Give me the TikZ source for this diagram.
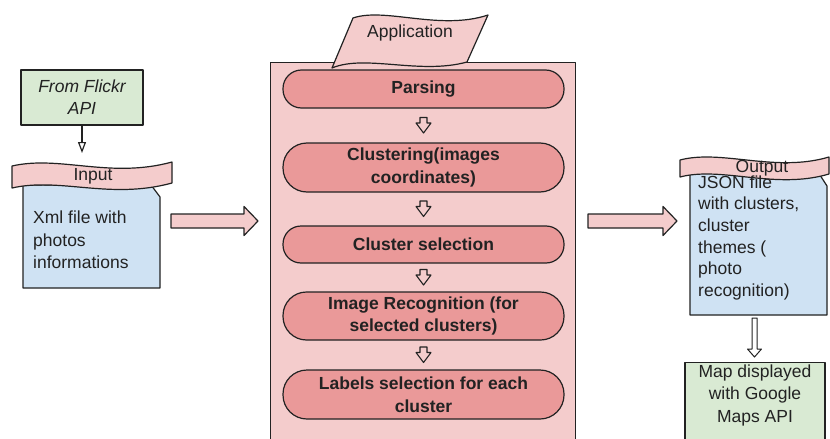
\documentclass[tikz,border=0pt]{standalone}
\usepackage{fontspec}
\setmainfont{Liberation Sans}
\usetikzlibrary{arrows.meta,calc}
\definecolor{pinklt}{HTML}{F4CCCC}
\definecolor{pinkmd}{HTML}{EA9999}
\definecolor{bluelt}{HTML}{CFE2F3}
\definecolor{greenlt}{HTML}{D9EAD3}
\definecolor{ink}{HTML}{222222}

\begin{document}
\begin{tikzpicture}[x=1pt,y=-1pt,line join=round,
  outl/.style={draw=ink,line width=1.2pt},
  txt/.style={font=\fontsize{17.5}{22.5}\selectfont,text=ink,inner sep=0pt},
  pill/.style={outl,fill=pinkmd,minimum width=281pt,inner sep=0pt,align=center,
    font=\fontsize{17.5}{22.5}\selectfont\bfseries,text=ink},
  greenbox/.style={outl,fill=greenlt,inner sep=0pt,align=center},
  openarr/.style={draw=ink,line width=1.2pt,-{Triangle[open,length=11pt,width=8pt,line width=1.2pt]}},
  pics/rblock/.style={code={%
    \draw[outl,fill=pinklt] (0,-7) -- (#1-14,-7) -- (#1-14,-14.5) -- (#1,0)
      -- (#1-14,14.5) -- (#1-14,7) -- (0,7) -- cycle;}},
  pics/dblock/.style={code={%
    \draw[outl,fill=pinklt,line width=1.1pt] (-3.5,-8) -- (3.5,-8) -- (3.5,-2.5) -- (7.5,-2.5)
      -- (0,7.5) -- (-7.5,-2.5) -- (-3.5,-2.5) -- cycle;}},
]
\useasboundingbox (0,0) rectangle (830,439);
\fill[white] (0,0) rectangle (830,439);

% ---------------- input side ----------------
\node[greenbox,minimum width=122pt,minimum height=55pt,
      font=\fontsize{17.5}{22}\selectfont\itshape,text=ink] (flickr) at (82,97.5)
  {From Flickr\\API};
\coordinate (flend) at (82,153);
\draw[openarr] (flickr.south) -- (flend);

% document shape with folded corner
\draw[outl,fill=bluelt] (23,185) -- (151,185) -- (160,197) -- (160,288) -- (23,288) -- cycle;
\coordinate (indoc) at (160,221);
\node[txt,align=left,anchor=north west] (intext) at (33,211)
  {Xml file with\\photos\\informations};

% input tape banner
\draw[outl,fill=pinklt] (12,166) .. controls (60,155) and (110,179) .. (172,162)
  -- (172,183) .. controls (110,200) and (60,177) .. (12,188) -- cycle;
\node[txt] (inlabel) at (93,176.5) {Input};

% arrow into the application
\pic (inarr) at (171,221) {rblock=87};

% ---------------- application ----------------
\node[outl,fill=pinklt,minimum width=305pt,minimum height=390pt,anchor=north west,
      inner sep=0pt] (app) at (270,62) {};

% slanted tape holding the title
\draw[outl,fill=pinklt] (353,18) .. controls (385,7) and (440,31) .. (488,15)
  -- (467,62) .. controls (420,75) and (365,54) .. (332,68) -- cycle;
\node[txt] (applabel) at (410,33) {Application};

\node[pill,minimum height=38pt,rounded corners=18.5pt] (parse) at (423.5,89) {Parsing};
\node[pill,minimum height=49pt,rounded corners=24pt] (clust) at (423.5,167.5)
  {Clustering(images\\coordinates)};
\node[pill,minimum height=37pt,rounded corners=18pt] (csel) at (423.5,244.5) {Cluster selection};
\node[pill,minimum height=48pt,rounded corners=23.5pt] (imrec) at (423.5,316)
  {Image Recognition (for\\selected clusters)};
\node[pill,minimum height=49pt,rounded corners=24pt] (lsel) at (423.5,394.5)
  {Labels selection for each\\cluster};

\pic (a1) at ($(parse.south)!0.5!(clust.north)$) {dblock};
\pic (a2) at ($(clust.south)!0.5!(csel.north)$) {dblock};
\pic (a3) at ($(csel.south)!0.5!(imrec.north)$) {dblock};
\pic (a4) at ($(imrec.south)!0.5!(lsel.north)$) {dblock};

% ---------------- output side ----------------
\pic (outarr) at (588,221) {rblock=89};

\draw[outl,fill=bluelt] (690,172) -- (818,172) -- (827,186) -- (827,315) -- (690,315) -- cycle;
\coordinate (outdoc) at (754.5,315);

\draw[outl,fill=pinklt] (680,160) .. controls (722,149) and (775,173) .. (829,157)
  -- (829,174) .. controls (775,190) and (722,166) .. (680,177) -- cycle;
\node[txt] (outlabel) at (762,168.5) {Output};

\node[txt,align=left,anchor=north west,font=\fontsize{17.5}{21.6}\selectfont] (outtext) at (698,175.5)
  {JSON file\\with clusters,\\cluster\\themes (\\photo\\recognition)};

\node[greenbox,minimum width=140pt,minimum height=88pt,anchor=north,
      font=\fontsize{17.5}{21.5}\selectfont,text=ink,text depth=0pt] (map) at (755,362) {};
\node[txt,align=center] (maptext) at (755,395) {Map displayed\\with Google\\Maps API};

% thin hollow arrow from the output file to the map
\draw[outl,fill=white,line width=1pt] (752,318) -- (757,318) -- (757,349) -- (761.5,349)
  -- (754.5,357) -- (747.5,349) -- (752,349) -- cycle;
\end{tikzpicture}
\end{document}
